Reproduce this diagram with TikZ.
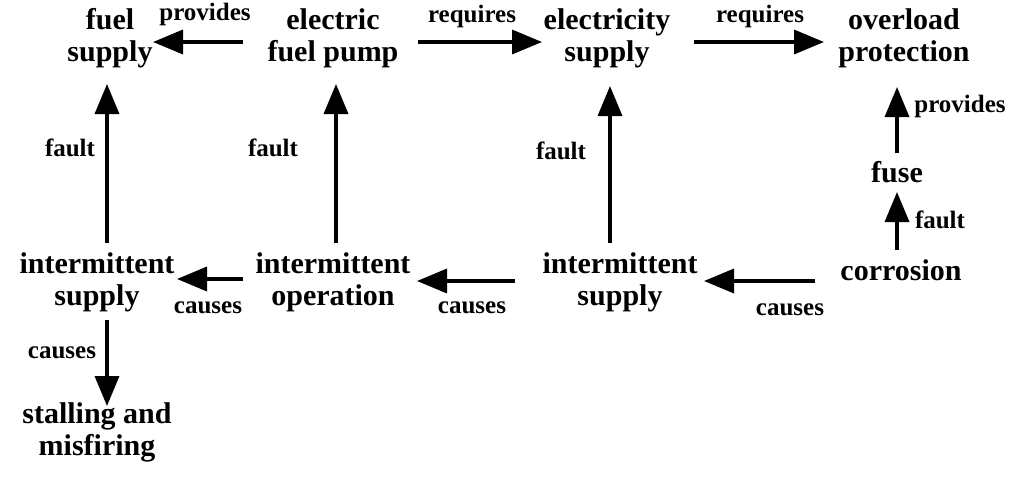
\documentclass[tikz,border=0pt]{standalone}
\usepackage{fontspec}
\setmainfont{Liberation Serif}
\usetikzlibrary{arrows.meta}
\begin{document}
\begin{tikzpicture}[x=1pt,y=-1pt,
  concept/.style={align=center,inner sep=0pt,font=\fontsize{30}{32}\selectfont\bfseries},
  rel/.style={inner sep=0pt,font=\fontsize{25}{27}\selectfont\bfseries},
  link/.style={line width=3.5pt,-{Triangle[length=30pt,width=24pt]}}]
\useasboundingbox (0,0) rectangle (1027,482);
% concepts
\node[concept] (fs)  at (110,38)  {fuel\\supply};
\node[concept] (efp) at (333,38)  {electric\\fuel pump};
\node[concept] (es)  at (607,38)  {electricity\\supply};
\node[concept] (op)  at (904,38)  {overload\\protection};
\node[concept] (fu)  at (897,172) {fuse};
\node[concept] (co)  at (901,270) {corrosion};
\node[concept] (isr) at (620,282) {intermittent\\supply};
\node[concept] (io)  at (333,282) {intermittent\\operation};
\node[concept] (isl) at (97,282)  {intermittent\\supply};
\node[concept] (sm)  at (97,432)  {stalling and\\misfiring};
% connector end points
\coordinate (a1s) at (243,42);  \coordinate (a1e) at (153,42);
\coordinate (a2s) at (418,42);  \coordinate (a2e) at (542,42);
\coordinate (a3s) at (694,42);  \coordinate (a3e) at (824,42);
\coordinate (f1s) at (107,243); \coordinate (f1e) at (107,84);
\coordinate (f2s) at (336,243); \coordinate (f2e) at (336,84);
\coordinate (f3s) at (610,243); \coordinate (f3e) at (610,86);
\coordinate (p4s) at (897,153); \coordinate (p4e) at (897,87);
\coordinate (f5s) at (897,250); \coordinate (f5e) at (897,192);
\coordinate (c1s) at (815,281); \coordinate (c1e) at (704,281);
\coordinate (c2s) at (515,281); \coordinate (c2e) at (417,281);
\coordinate (c3s) at (243,279); \coordinate (c3e) at (177,279);
\coordinate (c4s) at (107,320); \coordinate (c4e) at (107,406);
% connectors
\draw[link] (a1s) -- (a1e);
\draw[link] (a2s) -- (a2e);
\draw[link] (a3s) -- (a3e);
\draw[link] (f1s) -- (f1e);
\draw[link] (f2s) -- (f2e);
\draw[link] (f3s) -- (f3e);
\draw[link] (p4s) -- (p4e);
\draw[link] (f5s) -- (f5e);
\draw[link] (c1s) -- (c1e);
\draw[link] (c2s) -- (c2e);
\draw[link] (c3s) -- (c3e);
\draw[link] (c4s) -- (c4e);
% relation labels
\node[rel] (l1) at (205,14)  {provides};
\node[rel] (l2) at (472,16)  {requires};
\node[rel] (l3) at (760,16)  {requires};
\node[rel] (l4) at (70,148)  {fault};
\node[rel] (l5) at (273,148) {fault};
\node[rel] (l6) at (561,151) {fault};
\node[rel] (l7) at (960,106) {provides};
\node[rel] (l8) at (940,220) {fault};
\node[rel] (l9) at (208,308) {causes};
\node[rel] (l10) at (472,308) {causes};
\node[rel] (l11) at (790,310) {causes};
\node[rel] (l12) at (62,353) {causes};
\end{tikzpicture}
\end{document}
